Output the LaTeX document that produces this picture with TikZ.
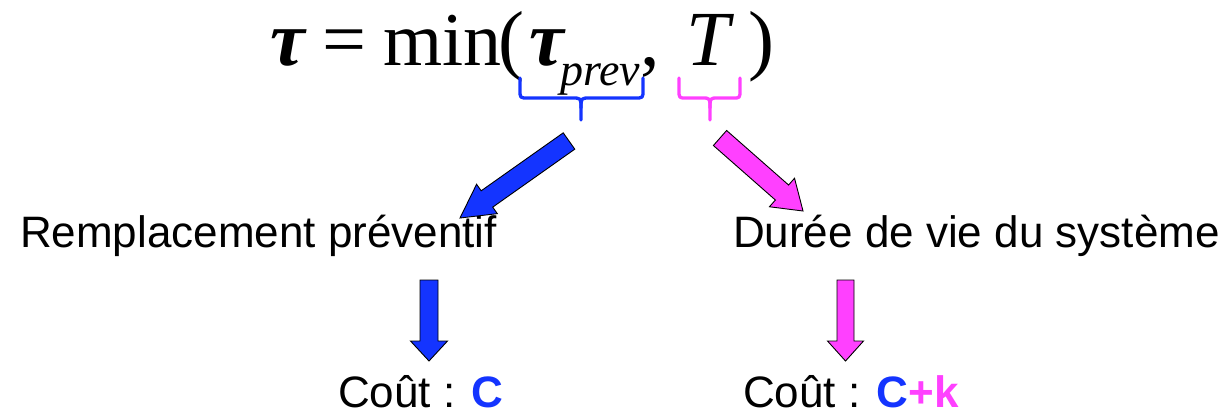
\documentclass[tikz,border=0pt]{standalone}
\usepackage{fontspec}
\setmainfont{Liberation Sans}
\newfontfamily\eqserif{Liberation Serif}
\usetikzlibrary{calc}
\definecolor{myblue}{RGB}{20,52,255}
\definecolor{mymag}{RGB}{255,64,255}
\newcommand\blkarrow[6]{%
  \coordinate (ba-b) at ($(#3)!#6!(#2)$);
  \filldraw[fill=#1, draw=black, line width=0.9pt, line join=miter]
    ($(#2)!#4!90:(#3)$) -- ($(ba-b)!#4!-90:(#2)$) -- ($(ba-b)!#5!-90:(#2)$) -- (#3)
    -- ($(ba-b)!#5!90:(#2)$) -- ($(ba-b)!#4!90:(#2)$) -- ($(#2)!#4!-90:(#3)$) -- cycle;}
\begin{document}
\begin{tikzpicture}[x=1pt,y=-1pt,
  txt/.style={anchor=base west, inner sep=0pt, outer sep=0pt},
  big/.style={txt, font=\fontsize{44}{48}\selectfont},
  eqf/.style={txt, font=\eqserif\fontsize{78}{90}\selectfont},
  subf/.style={txt, font=\eqserif\itshape\fontsize{46}{50}\selectfont},
  brace/.style={line width=3.3pt, line cap=round, line join=round}]
\useasboundingbox (0,0) rectangle (1230,415);
% equation
\node[eqf] (tau) at (270,65) {\bfseries\itshape τ};
\node[eqf] (eqs) at (322,65) {=};
\node[eqf] (minf) at (383,65) {\fontsize{76}{90}\selectfont min};
\node[eqf] (lp) at (498,65) {(};
\node[eqf] (tp) at (529,65) {\bfseries\itshape τ};
\node[subf] (prev) at (560,85) {prev};
\node[eqf] (comma) at (640,65) {,};
\node[eqf] (T) at (686,65) {\itshape T};
\node[eqf] (rp) at (748,65) {)};
% braces
\coordinate (bt1) at (581,120);
\coordinate (bt2) at (710,120);
\draw[brace, myblue] (520,78) -- (520,90) .. controls (520,98) .. (528,98) -- (572,98)
  .. controls (581,98) .. (581,108) -- (bt1);
\draw[brace, myblue] (643,78) -- (643,90) .. controls (643,98) .. (635,98) -- (590,98)
  .. controls (581,98) .. (581,108);
\draw[brace, mymag] (679,78) -- (679,90) .. controls (679,98) .. (686,98) -- (702,98)
  .. controls (710,98) .. (710,108) -- (bt2);
\draw[brace, mymag] (740,78) -- (740,90) .. controls (740,98) .. (733,98) -- (718,98)
  .. controls (710,98) .. (710,108);
% labels
\node[big] (rep) at (20,247) {Remplacement préventif};
\node[big] (duree) at (733,247) {Durée de vie du système};
\node[big] (coutC) at (338,407) {Coût : {\bfseries\color{myblue}C}};
\node[big] (coutCk) at (743,407) {Coût : {\bfseries\color{myblue}C\color{mymag}+k}};
% arrows
\coordinate (a1s) at (569,141); \coordinate (a1e) at (460,218);
\coordinate (a2s) at (720,138); \coordinate (a2e) at (803,211);
\coordinate (a3s) at (429,280); \coordinate (a3e) at (429,361);
\coordinate (a4s) at (845.5,280); \coordinate (a4e) at (845.5,361);
\blkarrow{myblue}{a1s}{a1e}{10pt}{18pt}{33pt}
\blkarrow{mymag}{a2s}{a2e}{10pt}{19pt}{28pt}
\blkarrow{myblue}{a3s}{a3e}{9pt}{18.5pt}{20pt}
\blkarrow{mymag}{a4s}{a4e}{8.5pt}{18pt}{20pt}
\end{tikzpicture}
\end{document}
